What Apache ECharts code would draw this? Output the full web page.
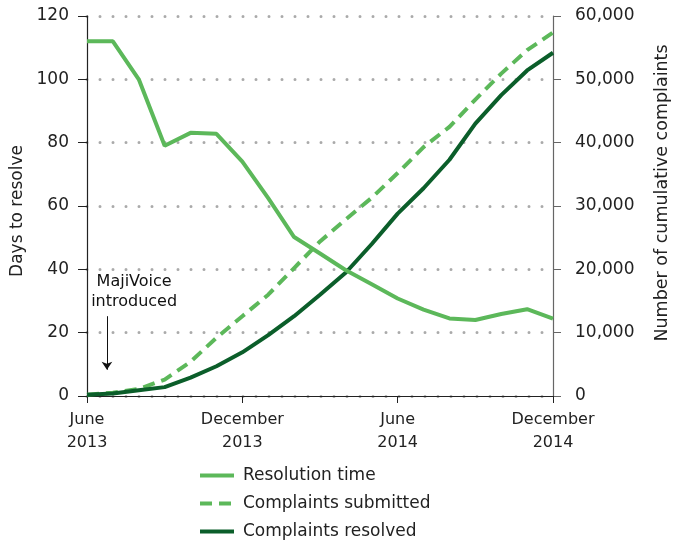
<!DOCTYPE html>
<html><head><meta charset="utf-8">
<script src="https://cdn.jsdelivr.net/npm/echarts@6/dist/echarts.min.js"></script>
<style>html,body{margin:0;padding:0;background:#fff}#c{width:673px;height:542px}</style>
</head><body><div id="c"></div>
<script>
// months since June 2013
const months = [0,1,2,3,4,5,6,7,8,9,10,11,12,13,14,15,16,17,18];
const xTickLabels = {0:'June\n2013', 6:'December\n2013', 12:'June\n2014', 18:'December\n2014'};
const resolutionTime = [112,112,100,79,83.1,82.8,74,62.5,50.2,45,39.7,35.3,30.8,27.3,24.5,24.0,25.9,27.4,24.4];
const complaintsSubmitted = [200,500,1100,2600,5400,9200,12600,16000,20200,24400,27900,31300,35200,39300,42500,46800,50900,54600,57400];
const complaintsResolved = [200,400,900,1400,2900,4700,6900,9600,12600,16000,19500,24000,28800,32800,37300,43000,47500,51400,54200];
const annotationText = 'MajiVoice\nintroduced';
const annotationMonth = 0.77;

const lightGreen = '#5cb85a';
const darkGreen = '#0b5e2a';
const font = 'DejaVu Sans';
const pair = (a) => months.map((m,i)=>[m,a[i]]);

const chart = echarts.init(document.getElementById('c'));
chart.setOption({
  animation:false,
  textStyle:{fontFamily:font,color:'#222'},
  grid:{left:87,right:120,top:16,bottom:146,outerBoundsMode:'none',containLabel:false},
  legend:{
    orient:'vertical', left:198, top:467, padding:0, itemGap:11, itemWidth:34, itemHeight:14,
    itemStyle:{opacity:0},
    lineStyle:{width:4},
    textStyle:{fontFamily:font,fontSize:17,color:'#222',padding:[0,0,0,4]},
    data:['Resolution time','Complaints submitted','Complaints resolved']
  },
  xAxis:{
    type:'value', min:0, max:18, interval:6,
    axisLine:{lineStyle:{color:'#222',width:1.2}},
    axisTick:{show:true,length:7,lineStyle:{color:'#222'}},
    splitLine:{show:false},
    axisLabel:{fontFamily:font,fontSize:16,color:'#222',lineHeight:23,margin:12,
      formatter:v=>xTickLabels[v]||''}
  },
  yAxis:[{
    type:'value', min:0, max:120, interval:20, position:'left',
    name:'Days to resolve', nameLocation:'middle', nameGap:59, nameRotate:90,
    nameTextStyle:{fontFamily:font,fontSize:17,color:'#222',padding:[0,10,0,0]},
    axisLine:{show:true,lineStyle:{color:'#222',width:1.2}},
    axisTick:{show:true,length:9,lineStyle:{color:'#222'}},
    axisLabel:{fontFamily:font,fontSize:17,color:'#222',margin:18},
    splitLine:{show:true,lineStyle:{color:'#aaa',width:3,type:[0,13],cap:'round'}}
  },{
    type:'value', min:0, max:60000, interval:10000, position:'right',
    name:'Number of cumulative complaints', nameLocation:'middle', nameGap:100, nameRotate:90,
    nameTextStyle:{fontFamily:font,fontSize:17.5,color:'#222',padding:[0,0,0,26]},
    axisLine:{show:true,lineStyle:{color:'#666',width:1.2}},
    axisTick:{show:true,length:8,lineStyle:{color:'#666'}},
    axisLabel:{fontFamily:font,fontSize:17,color:'#222',margin:22,
      formatter:v=>v.toLocaleString('en-US')},
    splitLine:{show:false}
  }],
  series:[
    {name:'Resolution time',type:'line',yAxisIndex:0,data:pair(resolutionTime),
     symbol:'none',lineStyle:{color:lightGreen,width:4},itemStyle:{color:lightGreen},z:3,
     markPoint:{silent:true,symbol:'circle',symbolSize:0,
       label:{show:true,position:'inside',formatter:annotationText,fontFamily:font,fontSize:16,color:'#111',lineHeight:20,align:'center',verticalAlign:'middle'},
       data:[{coord:[1.82,32.8],value:0}]},
     markLine:{silent:true,symbol:['none','arrow'],symbolSize:8,
       lineStyle:{color:'#111',width:1,type:'solid'},label:{show:false},
       data:[[{coord:[annotationMonth,25.2]},{coord:[annotationMonth,8.3]}]]}
    },
    {name:'Complaints submitted',type:'line',yAxisIndex:1,data:pair(complaintsSubmitted),
     symbol:'none',lineStyle:{color:lightGreen,width:4,type:[12,7]},itemStyle:{color:lightGreen},z:2},
    {name:'Complaints resolved',type:'line',yAxisIndex:1,data:pair(complaintsResolved),
     symbol:'none',lineStyle:{color:darkGreen,width:4},itemStyle:{color:darkGreen},z:2}
  ]
});
</script></body></html>
